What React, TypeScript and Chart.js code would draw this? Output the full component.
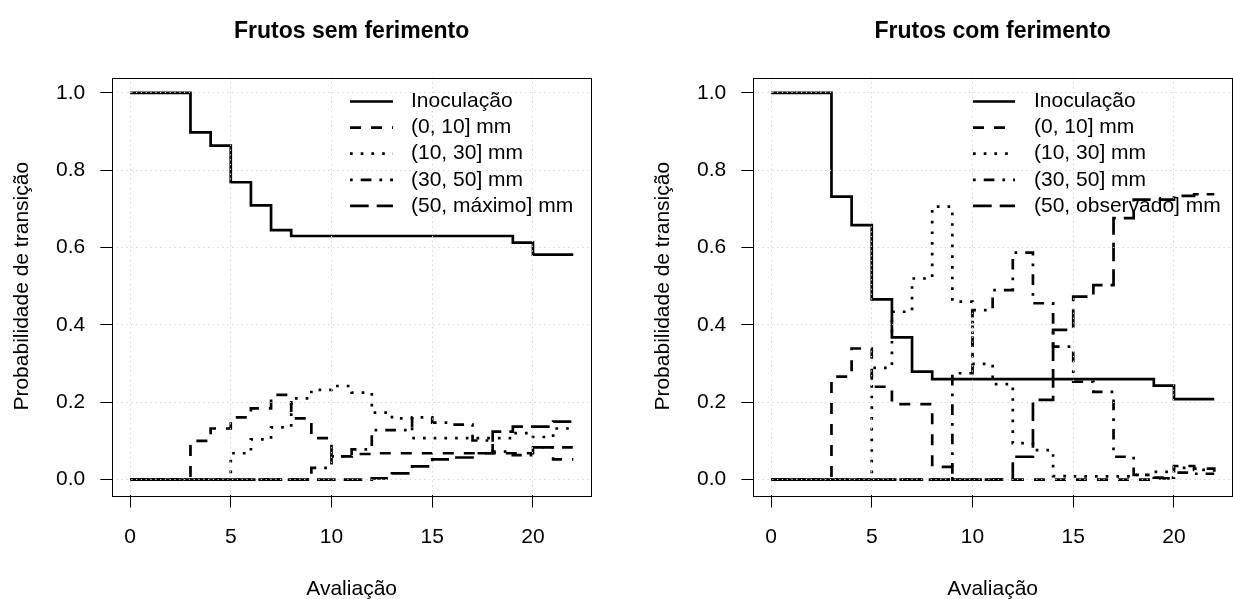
import React, { useEffect, useRef } from "react";
import { Chart, registerables } from "chart.js";

Chart.register(...registerables);

// ---------------- data ----------------
const evaluations = [0, 1, 2, 3, 4, 5, 6, 7, 8, 9, 10, 11, 12, 13, 14, 15, 16, 17, 18, 19, 20, 21, 22];
const xTicks = [0, 5, 10, 15, 20];
const yTicks = [0, 0.2, 0.4, 0.6, 0.8, 1.0];

const titleLeft = "Frutos sem ferimento";
const titleRight = "Frutos com ferimento";
const xAxisTitle = "Avaliação";
const yAxisTitle = "Probabilidade de transição";

const labelsLeft = ["Inoculação", "(0, 10] mm", "(10, 30] mm", "(30, 50] mm", "(50, máximo] mm"];
const labelsRight = ["Inoculação", "(0, 10] mm", "(10, 30] mm", "(30, 50] mm", "(50, observado] mm"];

// Frutos sem ferimento
const semInoculacao = [1, 1, 1, 0.898, 0.864, 0.769, 0.709, 0.645, 0.63, 0.63, 0.63, 0.63, 0.63, 0.63, 0.63, 0.63, 0.63, 0.63, 0.63, 0.613, 0.582, 0.582, 0.582];
const sem0a10 = [0, 0, 0, 0.1, 0.132, 0.161, 0.184, 0.219, 0.158, 0.107, 0.06, 0.066, 0.068, 0.068, 0.068, 0.068, 0.068, 0.068, 0.068, 0.068, 0.083, 0.052, 0.052];
const sem10a30 = [0, 0, 0, 0, 0, 0.068, 0.104, 0.135, 0.21, 0.232, 0.242, 0.225, 0.173, 0.158, 0.107, 0.107, 0.107, 0.107, 0.107, 0.12, 0.11, 0.132, 0.132];
const sem30a50 = [0, 0, 0, 0, 0, 0, 0, 0, 0, 0.03, 0.06, 0.078, 0.128, 0.128, 0.161, 0.147, 0.142, 0.101, 0.072, 0.063, 0.083, 0.083, 0.083];
const sem50max = [0, 0, 0, 0, 0, 0, 0, 0, 0, 0, 0, 0, 0.003, 0.016, 0.034, 0.052, 0.057, 0.068, 0.124, 0.137, 0.137, 0.15, 0.15];

// Frutos com ferimento
const comInoculacao = [1, 1, 1, 0.732, 0.658, 0.466, 0.368, 0.279, 0.26, 0.26, 0.26, 0.26, 0.26, 0.26, 0.26, 0.26, 0.26, 0.26, 0.26, 0.243, 0.208, 0.208, 0.208];
const com0a10 = [0, 0, 0, 0.266, 0.339, 0.24, 0.195, 0.195, 0.033, 0, 0, 0, 0, 0, 0, 0, 0, 0, 0, 0.003, 0.035, 0.028, 0.02];
const com10a30 = [0, 0, 0, 0, 0, 0.289, 0.434, 0.52, 0.706, 0.46, 0.299, 0.247, 0.094, 0.076, 0.009, 0.008, 0.008, 0.008, 0.012, 0.02, 0.03, 0.025, 0.025];
const com30a50 = [0, 0, 0, 0, 0, 0, 0, 0, 0, 0.275, 0.438, 0.49, 0.587, 0.456, 0.344, 0.253, 0.227, 0.059, 0.012, 0.005, 0.018, 0.015, 0.015];
const com50obs = [0, 0, 0, 0, 0, 0, 0, 0, 0, 0, 0, 0, 0.059, 0.206, 0.387, 0.473, 0.503, 0.676, 0.724, 0.724, 0.734, 0.738, 0.738];

// ---------------- styles ----------------
const FONT = '"Liberation Sans", Arial, Helvetica, sans-serif';
const LINE_W = 2.7;
const DASHES: number[][] = [[], [11, 10], [2.7, 8], [2.7, 8, 10.7, 8], [18.7, 8]];

const CANVAS_W = 616;
const CANVAS_H = 599;

type PanelProps = {
  left: number;
  title: string;
  labels: string[];
  series: number[][];
  legendLineX: [number, number];
  legendTextX: number;
};

function Panel({ left, title, labels, series, legendLineX, legendTextX }: PanelProps) {
  const ref = useRef<HTMLCanvasElement | null>(null);

  useEffect(() => {
    if (!ref.current) return;

    const decor = {
      id: "panelDecor",
      afterDraw(chart: any) {
        const { ctx, chartArea: a } = chart;
        ctx.save();
        ctx.setLineDash([]);
        ctx.strokeStyle = "#000";
        ctx.lineWidth = 1;
        ctx.strokeRect(Math.round(a.left) + 0.5, Math.round(a.top) + 0.5, Math.round(a.right - a.left), Math.round(a.bottom - a.top));

        ctx.fillStyle = "#000";
        ctx.textAlign = "center";
        ctx.textBaseline = "alphabetic";
        ctx.font = `bold 23px ${FONT}`;
        ctx.fillText(title, (a.left + a.right) / 2, 38);

        ctx.font = `21px ${FONT}`;
        ctx.fillText(xAxisTitle, (a.left + a.right) / 2, 595);

        ctx.save();
        ctx.translate(28, (a.top + a.bottom) / 2);
        ctx.rotate(-Math.PI / 2);
        ctx.fillText(yAxisTitle, 0, 0);
        ctx.restore();

        // legend
        const rowY0 = 101.5;
        const rowStep = 26.1;
        chart.data.datasets.forEach((ds: any, i: number) => {
          const y = rowY0 + i * rowStep;
          ctx.beginPath();
          ctx.setLineDash(ds.borderDash || []);
          ctx.lineWidth = ds.borderWidth;
          ctx.lineCap = "butt";
          ctx.strokeStyle = "#000";
          ctx.moveTo(legendLineX[0], y);
          ctx.lineTo(legendLineX[1], y);
          ctx.stroke();
          ctx.setLineDash([]);
          ctx.textAlign = "left";
          ctx.textBaseline = "middle";
          ctx.font = `21px ${FONT}`;
          ctx.fillText(ds.label, legendTextX, y);
        });
        ctx.restore();
      },
    };

    const chart = new Chart(ref.current, {
      type: "line",
      data: {
        datasets: series.map((vals, i) => ({
          label: labels[i],
          data: evaluations.map((x, k) => ({ x, y: vals[k] })),
          borderColor: "#000",
          backgroundColor: "#000",
          borderWidth: LINE_W,
          borderDash: DASHES[i],
          borderCapStyle: "butt",
          borderJoinStyle: "miter",
          stepped: "before",
          pointRadius: 0,
          fill: false,
          tension: 0,
        })),
      },
      options: {
        responsive: false,
        animation: false,
        devicePixelRatio: 1,
        layout: { padding: { top: 77.5, right: 25, bottom: 0, left: 0 } },
        plugins: {
          legend: { display: false },
          title: { display: false },
          tooltip: { enabled: false },
        },
        scales: {
          x: {
            type: "linear",
            min: -0.88,
            max: 22.88,
            afterBuildTicks: (s: any) => {
              s.ticks = xTicks.map((v) => ({ value: v }));
            },
            afterFit: (s: any) => {
              s.height = 104;
            },
            ticks: {
              font: { family: FONT, size: 21 },
              color: "#000",
              padding: 17,
              maxRotation: 0,
              autoSkip: false,
              callback: (v: any) => String(v),
            },
            grid: {
              color: "#d3d3d3",
              lineWidth: 1,
              z: 1,
              tickLength: 12.5,
              tickColor: "#000",
              tickWidth: 1,
              tickBorderDash: [],
            },
            border: { display: false, dash: [1.3, 3.5] },
          },
          y: {
            type: "linear",
            min: -0.04,
            max: 1.04,
            afterBuildTicks: (s: any) => {
              s.ticks = yTicks.map((v) => ({ value: v }));
            },
            afterFit: (s: any) => {
              s.width = 112.3;
            },
            ticks: {
              font: { family: FONT, size: 21 },
              color: "#000",
              padding: 15,
              autoSkip: false,
              callback: (v: any) => Number(v).toFixed(1),
            },
            grid: {
              color: "#d3d3d3",
              lineWidth: 1,
              z: 1,
              tickLength: 12,
              tickColor: "#000",
              tickWidth: 1,
              tickBorderDash: [],
            },
            border: { display: false, dash: [1.3, 3.5] },
          },
        },
      } as any,
      plugins: [decor],
    } as any);

    return () => chart.destroy();
  }, []);

  return (
    <canvas
      ref={ref}
      width={CANVAS_W}
      height={CANVAS_H}
      style={{ position: "absolute", left, top: 0, width: CANVAS_W, height: CANVAS_H, display: "block" }}
    />
  );
}

export default function App() {
  return (
    <div
      style={{
        position: "fixed",
        left: 0,
        top: 0,
        width: 1233,
        height: 599,
        overflow: "hidden",
        background: "#fff",
      }}
    >
      <Panel
        left={0}
        title={titleLeft}
        labels={labelsLeft}
        series={[semInoculacao, sem0a10, sem10a30, sem30a50, sem50max]}
        legendLineX={[350, 393]}
        legendTextX={411}
      />
      <Panel
        left={641}
        title={titleRight}
        labels={labelsRight}
        series={[comInoculacao, com0a10, com10a30, com30a50, com50obs]}
        legendLineX={[332, 374]}
        legendTextX={393}
      />
    </div>
  );
}
